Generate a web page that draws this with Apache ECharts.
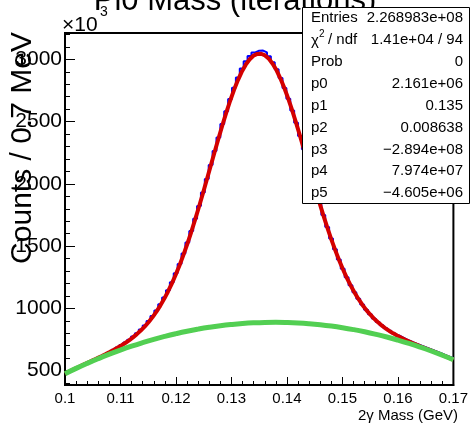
<!DOCTYPE html>
<html><head><meta charset="utf-8">
<script src="https://cdn.jsdelivr.net/npm/echarts@6/dist/echarts.min.js"></script>
<style>html,body{margin:0;padding:0;background:#fff}#c{width:471px;height:423px}</style>
</head><body><div id="c"></div>
<script>
// histogram: 100 bins of 0.7 MeV from 0.1 to 0.17 GeV, counts in units of 10^3
const xMin = 0.1, xMax = 0.17, binWidth = 0.0007;
const histCounts = [
 485,500,515,530,544,558,574,589,604,619,
 635,651,668,686,705,726,748,773,800,830,
 863,899,939,983,1032,1086,1145,1210,1281,1357,
 1440,1528,1622,1720,1823,1930,2040,2151,2263,2373,
 2481,2584,2681,2773,2855,2927,2985,3027,3056,3070,
 3071,3057,3025,2978,2920,2850,2771,2684,2590,2490,
 2385,2278,2170,2062,1955,1851,1750,1653,1561,1474,
 1393,1318,1249,1186,1129,1077,1031,989,952,919,
 890,864,840,819,800,782,766,751,737,723,
 710,697,685,673,661,649,637,624,612,600
];
// total fit (gaus + pol2): value at x=0.1, at the 100 bin centres, at x=0.17
const fitValues = [
 475.6,
 483.3,498.6,513.6,528.6,543.3,558.0,572.7,587.4,602.4,617.4,
 632.9,648.8,665.4,682.9,701.5,721.5,743.0,766.7,792.6,821.3,
 853.2,888.5,927.9,971.7,1020.3,1074.1,1133.4,1198.4,1269.6,1346.7,
 1429.8,1518.7,1613.1,1712.4,1816.0,1923.0,2032.4,2143.1,2253.7,2362.8,
 2468.9,2570.4,2665.7,2753.4,2831.8,2899.7,2955.7,2999.0,3028.7,3044.2,
 3045.3,3032.0,3004.6,2963.6,2909.8,2844.2,2768.0,2682.5,2589.5,2490.2,
 2386.3,2279.5,2171.2,2062.7,1955.5,1850.8,1749.4,1652.4,1560.2,1473.5,
 1392.7,1317.9,1248.9,1186.1,1129.0,1077.5,1031.1,989.6,952.5,919.4,
 889.8,863.3,839.7,818.2,798.9,781.2,764.8,749.5,735.2,721.5,
 708.3,695.5,682.8,670.4,657.9,645.5,632.9,620.2,607.4,594.4,
 587.7
];
// background (pol2) sampled every 2 MeV from 0.1 to 0.17
const bkgStep = 0.002;
const bkgValues = [
 475.0,517.6,557.8,595.7,631.4,664.7,695.7,724.3,750.7,774.7,
 796.4,815.9,832.9,847.7,860.2,870.3,878.2,883.7,886.9,887.8,
 886.3,882.6,876.5,868.1,857.4,844.4,829.1,811.5,791.5,769.3,
 744.7,717.8,688.6,657.1,623.2,587.1
];
const yMin = 384, yMax = 3212;
const yMajorTicks = [500,1000,1500,2000,2500,3000];
const yMinorTicks = [400,600,700,800,900,1100,1200,1300,1400,1600,1700,1800,1900,2100,2200,2300,2400,2600,2700,2800,2900,3100,3200];
const titleText = 'Pi0 Mass (iterations)';
const xTitle = '2γ Mass (GeV)';
const yTitle = 'Counts / 0.7 MeV';
const statLabels = ['Entries','','Prob','p0','p1','p2','p3','p4','p5'];
const statValues = ['2.268983e+08','1.41e+04 / 94','0','2.161e+06','0.135','0.008638','\u22122.894e+08','7.974e+07','\u22124.605e+06'];

const FONT = '"Liberation Sans", Arial, sans-serif';
const histData = histCounts.map((v,i)=>[xMin + i*binWidth, v]);
histData.push([xMax, histCounts[histCounts.length-1]]);
const fitData = fitValues.map((v,i)=>{
  let x = (i===0) ? xMin : (i===fitValues.length-1 ? xMax : xMin + (i-0.5)*binWidth);
  return [x, v];
});
const bkgData = bkgValues.map((v,i)=>[xMin + i*bkgStep, v]);

const chart = echarts.init(document.getElementById('c'), null, {renderer:'canvas'});

const gl = { left:65, right:13, top:33, bottom:38 };
const graphics = [];
graphics.push({type:'text', x:235, y:1, z:100, style:{text:titleText, font:'31px '+FONT, fill:'#000', align:'center', verticalAlign:'middle'}});
graphics.push({type:'text', x:62, y:25, z:100, style:{text:'×10', font:'21px '+FONT, fill:'#000', align:'left', verticalAlign:'middle'}});
graphics.push({type:'text', x:100, y:12, z:100, style:{text:'3', font:'14px '+FONT, fill:'#000', align:'left', verticalAlign:'middle'}});
graphics.push({type:'text', x:23, y:148, rotation:Math.PI/2, z:100, style:{text:yTitle, font:'30px '+FONT, fill:'#000', align:'center', verticalAlign:'middle'}});
graphics.push({type:'text', x:458, y:416, z:100, style:{text:xTitle, font:'15px '+FONT, fill:'#000', align:'right', verticalAlign:'middle'}});
// stats box
graphics.push({type:'rect', z:100, shape:{x:302.5, y:7.5, width:167, height:196}, style:{fill:'#fff', stroke:'#000', lineWidth:1}});
const rowY0 = 18, rowDY = 21.9;
statLabels.forEach((lab,k)=>{
  const y = rowY0 + k*rowDY;
  if (lab) graphics.push({type:'text', x:311, y:y, z:101, style:{text:lab, font:'15px '+FONT, fill:'#000', align:'left', verticalAlign:'middle'}});
  graphics.push({type:'text', x:463, y:y, z:101, style:{text:statValues[k], font:'15px '+FONT, fill:'#000', align:'right', verticalAlign:'middle'}});
});
const chiY = rowY0 + rowDY;
graphics.push({type:'text', x:311, y:chiY+1, z:101, style:{text:'χ', font:'15px '+FONT, fill:'#000', align:'left', verticalAlign:'middle'}});
graphics.push({type:'text', x:319, y:chiY-6, z:101, style:{text:'2', font:'10px '+FONT, fill:'#000', align:'left', verticalAlign:'middle'}});
graphics.push({type:'text', x:328, y:chiY, z:101, style:{text:'/ ndf', font:'15px '+FONT, fill:'#000', align:'left', verticalAlign:'middle'}});

chart.setOption({
  animation:false,
  backgroundColor:'#fff',
  grid:{left:gl.left, right:gl.right, top:gl.top, bottom:gl.bottom, show:true, borderColor:'#000', borderWidth:2, containLabel:false},
  xAxis:{
    type:'value', min:xMin, max:xMax, interval:0.01,
    axisLine:{show:true, onZero:false, lineStyle:{color:'#000', width:2}},
    axisTick:{show:true, inside:true, length:8, lineStyle:{color:'#000', width:1}},
    minorTick:{show:true, splitNumber:5, length:4, lineStyle:{color:'#000', width:1}},
    splitLine:{show:false},
    axisLabel:{show:true, color:'#000', fontSize:15, fontFamily:FONT, margin:6,
      formatter:v=>String(parseFloat(v.toFixed(3))), showMinLabel:true, showMaxLabel:true}
  },
  yAxis:[{
    type:'value', min:yMin, max:yMax,
    axisLine:{show:true, onZero:false, lineStyle:{color:'#000', width:2}},
    axisTick:{show:true, inside:true, length:10, customValues:yMajorTicks, lineStyle:{color:'#000', width:1}},
    splitLine:{show:false},
    axisLabel:{show:true, color:'#000', fontSize:21, fontFamily:FONT, margin:3, customValues:yMajorTicks,
      formatter:v=>String(Math.round(v))}
  },{
    type:'value', min:yMin, max:yMax, position:'left',
    axisLine:{show:false},
    axisTick:{show:true, inside:true, length:5, customValues:yMinorTicks, lineStyle:{color:'#000', width:1}},
    splitLine:{show:false},
    axisLabel:{show:false}
  }],
  series:[
    {type:'line', name:'hist', data:histData, step:'end', showSymbol:false, symbol:'none', yAxisIndex:0,
     lineStyle:{color:'#0000ff', width:2}, z:2},
    {type:'line', name:'fit', data:fitData, showSymbol:false, symbol:'none', yAxisIndex:0,
     lineStyle:{color:'#d40000', width:4}, z:3},
    {type:'line', name:'bkg', data:bkgData, smooth:true, showSymbol:false, symbol:'none', yAxisIndex:0,
     lineStyle:{color:'#52cf52', width:5}, z:4}
  ],
  graphic:graphics
});
</script></body></html>
